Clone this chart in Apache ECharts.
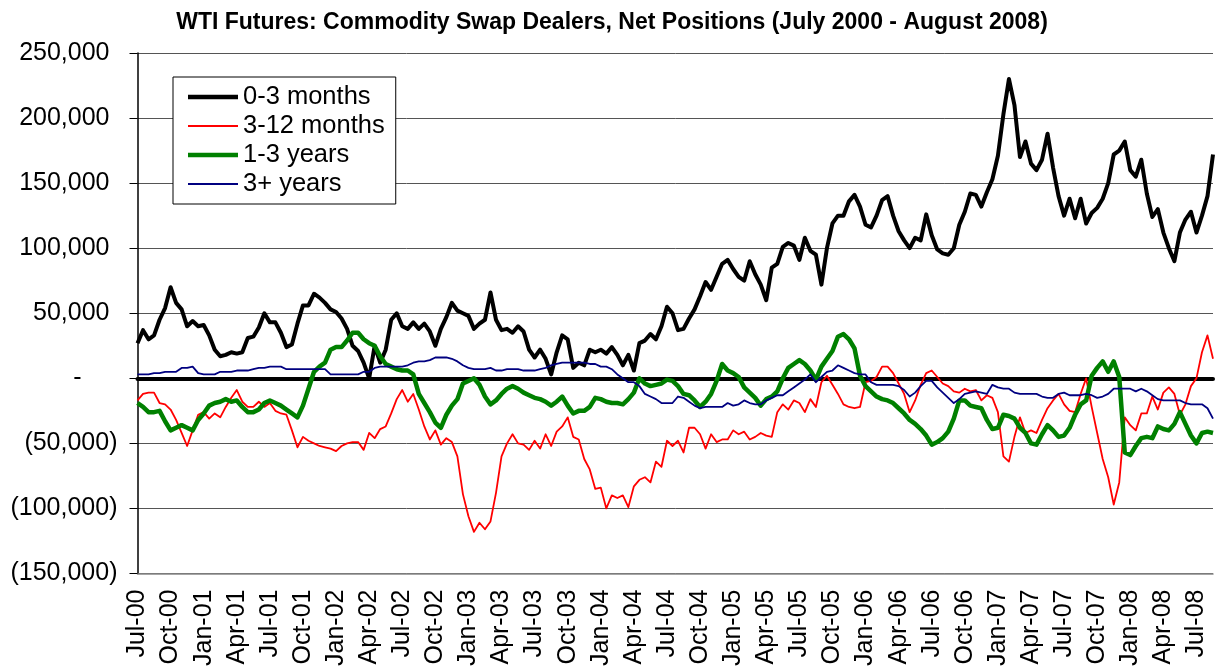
<!DOCTYPE html>
<html>
<head>
<meta charset="utf-8">
<script src="https://cdn.jsdelivr.net/npm/echarts@6/dist/echarts.min.js"></script>
<style>
html,body{margin:0;padding:0;background:#fff;}
#chart{width:1215px;height:671px;}
</style>
</head>
<body>
<div id="chart"></div>
<script>
// Semi-monthly observations, July 2000 - mid August 2008, values in thousands of contracts
const tickLabels = ['Jul-00','Oct-00','Jan-01','Apr-01','Jul-01','Oct-01','Jan-02','Apr-02','Jul-02','Oct-02','Jan-03','Apr-03','Jul-03','Oct-03','Jan-04','Apr-04','Jul-04','Oct-04','Jan-05','Apr-05','Jul-05','Oct-05','Jan-06','Apr-06','Jul-06','Oct-06','Jan-07','Apr-07','Jul-07','Oct-07','Jan-08','Apr-08','Jul-08'];
const seriesNames = ['0-3 months','3-12 months','1-3 years','3+ years'];

const m0to3 = [
27,37,30,33,45,54,70,58,53,40,44,40,
41,33,22,17,18,20,19,20,31,32,39,50,
43,43,35,24,26,42,56,56,65,62,58,53,
51,46,38,25,21,12,0,25,12,22,45,50,
40,38,43,38,42,36,25,38,47,58,52,50,
48,38,42,45,66,45,37,38,35,40,36,22,
16,22,15,3,20,33,30,8,12,10,22,20,
22,19,24,18,10,18,6,27,29,34,30,40,
55,50,37,38,46,53,63,74,68,78,88,91,
84,78,75,90,80,72,60,85,88,101,104,102,
91,108,98,95,72,100,119,125,125,136,141,132,
118,116,125,137,140,125,113,106,100,108,106,126,
110,99,96,95,100,118,128,142,141,132,143,153,
171,203,230,210,170,182,165,160,168,188,162,140,
125,138,123,138,119,127,131,138,150,172,175,182,
160,155,168,142,124,130,112,100,90,112,122,128,
112,125,140,172];

const m3to12 = [
-17,-12,-11,-11,-19,-20,-24,-32,-42,-52,-40,-28,
-26,-31,-27,-30,-22,-15,-9,-18,-22,-22,-18,-22,
-19,-25,-27,-28,-40,-53,-45,-48,-50,-52,-53,-54,
-56,-52,-50,-49,-49,-55,-42,-46,-39,-37,-27,-16,
-9,-18,-12,-24,-37,-47,-40,-51,-46,-49,-60,-89,
-106,-118,-111,-116,-110,-88,-60,-50,-43,-50,-51,-55,
-48,-54,-43,-52,-41,-37,-30,-45,-47,-62,-70,-85,
-84,-100,-90,-92,-90,-99,-83,-78,-76,-80,-64,-68,
-48,-52,-48,-57,-38,-38,-43,-54,-43,-49,-47,-47,
-40,-43,-41,-47,-45,-42,-44,-45,-26,-20,-24,-17,
-19,-26,-16,-22,-3,2,-5,-12,-20,-22,-23,-22,
-3,-2,1,9,9,4,-4,-12,-26,-17,-5,4,
6,1,-4,-6,-10,-11,-8,-10,-9,-17,-13,-15,
-26,-60,-64,-45,-30,-42,-40,-42,-32,-23,-17,-12,
-20,-25,-26,-12,0,-22,-42,-62,-76,-97,-80,-30,
-36,-40,-27,-27,-14,-24,-11,-7,-12,-28,-20,-6,
0,20,33,15];

const y1to3 = [
-19,-22,-26,-26,-25,-33,-40,-38,-36,-38,-40,-32,
-27,-21,-19,-18,-16,-18,-17,-22,-26,-26,-24,-19,
-17,-19,-21,-24,-27,-30,-21,-8,5,9,12,22,
24,24,29,35,35,30,27,25,17,11,9,7,
6,6,3,-12,-19,-26,-34,-38,-28,-21,-16,-4,
-2,0,-5,-14,-20,-17,-12,-8,-6,-8,-11,-13,
-15,-16,-18,-21,-18,-14,-21,-27,-25,-25,-22,-15,
-16,-18,-19,-19,-20,-16,-11,0,-4,-6,-5,-4,
-1,-2,-6,-12,-13,-17,-22,-18,-12,-2,11,6,
4,1,-7,-11,-15,-21,-16,-14,-10,0,8,11,
14,11,6,-1,9,15,21,32,34,30,23,2,
-6,-10,-14,-16,-17,-19,-23,-27,-32,-35,-39,-44,
-51,-49,-46,-41,-31,-17,-17,-21,-22,-23,-32,-39,
-38,-28,-29,-31,-38,-42,-50,-51,-43,-36,-40,-45,
-44,-38,-28,-20,-17,2,8,13,5,13,1,-57,
-59,-52,-46,-45,-46,-37,-39,-40,-35,-26,-35,-44,
-50,-42,-41,-42];

const y3plus = [
3,3,3,4,4,5,5,5,8,8,9,4,
3,3,3,5,5,5,6,6,6,7,8,8,
9,9,9,7,7,7,7,7,7,7,7,3,
3,3,3,3,3,5,5,8,9,9,9,9,
9,10,12,13,13,14,16,16,16,15,13,10,
8,7,7,7,8,6,6,7,7,7,6,6,
6,7,8,10,11,12,12,12,12,12,11,11,
9,9,7,3,0,-3,-3,-6,-12,-14,-16,-19,
-19,-19,-14,-15,-18,-21,-23,-22,-22,-22,-22,-19,
-21,-20,-17,-19,-20,-20,-17,-15,-13,-13,-10,-7,
-4,-1,3,-3,1,5,6,10,8,6,4,3,
3,-3,-5,-5,-5,-5,-6,-9,-14,-11,-6,-2,
-2,-7,-11,-15,-19,-16,-12,-11,-10,-11,-12,-5,
-7,-8,-8,-11,-12,-12,-12,-12,-14,-15,-15,-12,
-11,-13,-13,-13,-12,-13,-15,-14,-12,-8,-8,-8,
-8,-10,-8,-10,-13,-16,-17,-17,-17,-17,-19,-20,
-20,-20,-23,-31];

// category axis: two observations per month starting July 2000
const periods = [];
for (let i = 0; i < m0to3.length; i++) {
  const mIdx = 6 + Math.floor(i / 2);
  const yr = 2000 + Math.floor(mIdx / 12);
  const mo = (mIdx % 12) + 1;
  periods.push(yr + '-' + (mo < 10 ? '0' : '') + mo + (i % 2 ? 'b' : 'a'));
}

const FONT = '"Liberation Sans", Arial, sans-serif';

function fmtY(v) {
  if (v === 0) return '{z|-}';
  const s = Math.abs(v * 1000).toLocaleString('en-US');
  return v < 0 ? '{n|(' + s + ')}' : '{p|' + s + '}';
}

const chart = echarts.init(document.getElementById('chart'), null, {renderer: 'canvas'});
const lineDef = (name, data, color, width) => ({
  name, type: 'line', data, symbol: 'none', showSymbol: false,
  lineStyle: {color, width, join: 'round'}, itemStyle: {color},
  animation: false, emphasis: {disabled: true}
});
const thickIcon = 'path://M0,0H50V4.5H0Z';
const thinIcon = 'path://M0,0H50V1.8H0Z';

chart.setOption({
  backgroundColor: '#ffffff',
  animation: false,
  title: {
    text: 'WTI Futures: Commodity Swap Dealers, Net Positions (July 2000 - August 2008)',
    left: 607, top: 6, textAlign: 'center',
    textStyle: {fontFamily: FONT, fontSize: 23, fontWeight: 'bold', color: '#000'}
  },
  legend: {
    orient: 'vertical', left: 173, top: 77,
    backgroundColor: '#fff', borderColor: '#000', borderWidth: 1,
    padding: [7, 11, 7, 15], itemGap: 3, itemWidth: 50, itemHeight: 14,
    symbolKeepAspect: true,
    textStyle: {fontFamily: FONT, fontSize: 25.5, color: '#000'},
    data: [
      {name: seriesNames[0], icon: thickIcon},
      {name: seriesNames[1], icon: thinIcon},
      {name: seriesNames[2], icon: thickIcon},
      {name: seriesNames[3], icon: thinIcon}
    ]
  },
  grid: {left: 137.5, right: 2, top: 53, bottom: 97.5, containLabel: false},
  xAxis: [{
    type: 'category', data: periods, boundaryGap: false,
    axisLine: {onZero: false, lineStyle: {color: '#888', width: 1.5}},
    axisTick: {show: false},
    axisLabel: {
      rotate: 90, margin: 16, fontFamily: FONT, fontSize: 25, color: '#000',
      interval: (idx) => idx % 6 === 0,
      formatter: (val, idx) => tickLabels[idx / 6] || ''
    },
    splitLine: {show: false}
  }, {
    type: 'category', data: periods, boundaryGap: false, position: 'bottom',
    axisLine: {onZero: true, lineStyle: {color: '#000', width: 4}},
    axisTick: {show: false}, axisLabel: {show: false}, splitLine: {show: false}
  }],
  yAxis: {
    type: 'value', min: -150, max: 250, interval: 50,
    axisLine: {show: true, lineStyle: {color: '#000', width: 1.5}},
    axisTick: {show: true, inside: false, length: 8, lineStyle: {color: '#000', width: 1}},
    axisLabel: {
      margin: 20, fontFamily: FONT, fontSize: 25, color: '#000',
      formatter: fmtY,
      rich: {
        p: {fontFamily: FONT, fontSize: 25, color: '#000', padding: [0, 8, 0, 0]},
        n: {fontFamily: FONT, fontSize: 25, color: '#000'},
        z: {fontFamily: FONT, fontSize: 25, color: '#000', padding: [0, 36, 0, 0]}
      }
    },
    splitLine: {show: true, lineStyle: {color: '#555', width: 1}}
  },
  series: [
    lineDef(seriesNames[0], m0to3, '#000000', 4),
    lineDef(seriesNames[1], m3to12, '#ff0000', 1.8),
    lineDef(seriesNames[2], y1to3, '#008000', 4.5),
    lineDef(seriesNames[3], y3plus, '#000080', 1.8)
  ]
});
</script>
</body>
</html>
